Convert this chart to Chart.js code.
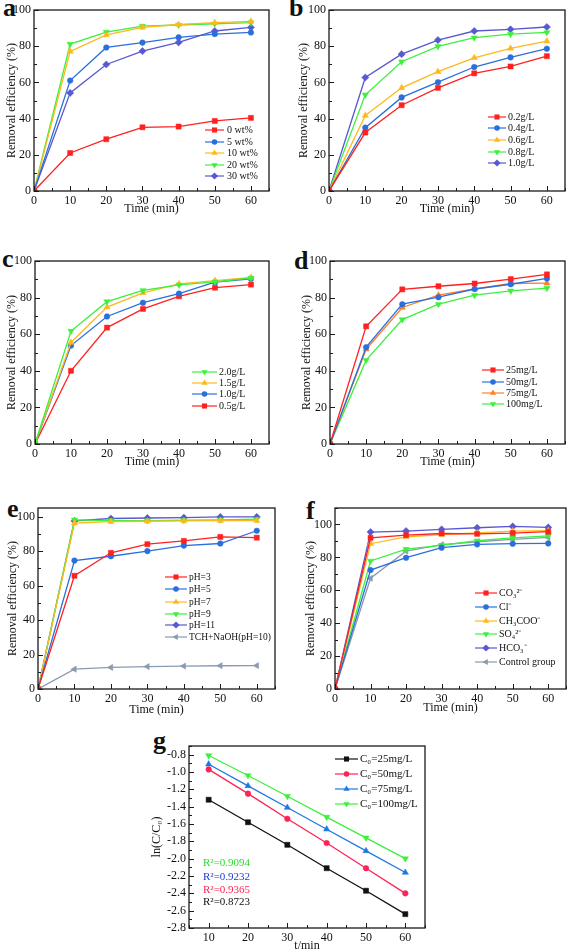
<!DOCTYPE html>
<html>
<head>
<meta charset="UTF-8">
<title>Removal efficiency panels</title>
<script src="https://cdn.jsdelivr.net/npm/chart.js"></script>
<style>
  body { margin:0; width:574px; height:952px; position:relative; overflow:hidden; background:#fff; }
  canvas { position:absolute; }
  .tag { position:absolute; font:bold 26px/26px "Liberation Serif", "Times New Roman", serif; color:#111; }
</style>
</head>
<body>
<div class="tag" style="left:3px;top:-5px">a</div>
<div class="tag" style="left:289px;top:-5px">b</div>
<div class="tag" style="left:2px;top:246px">c</div>
<div class="tag" style="left:294px;top:248px">d</div>
<div class="tag" style="left:7px;top:496px">e</div>
<div class="tag" style="left:306px;top:498px">f</div>
<div class="tag" style="left:153px;top:728px">g</div>

<canvas id="chartA"></canvas>
<canvas id="chartB"></canvas>
<canvas id="chartC"></canvas>
<canvas id="chartD"></canvas>
<canvas id="chartE"></canvas>
<canvas id="chartF"></canvas>
<canvas id="chartG"></canvas>

<script>
// ---- data ----
var times = [0, 10, 20, 30, 40, 50, 60];
var timeTicks = [0, 10, 20, 30, 40, 50, 60];
var effTicks = [0, 20, 40, 60, 80, 100];

// a : loading
var loadLabels = ['0 wt%', '5 wt%', '10 wt%', '20 wt%', '30 wt%'];
var wt0  = [0, 21, 28.6, 35.2, 35.6, 38.7, 40.4];
var wt5  = [0, 61, 79.3, 82, 84.9, 86.7, 87.6];
var wt10 = [0, 77.1, 86.2, 90.4, 92, 93, 93.7];
var wt20 = [0, 81.2, 87.8, 91.1, 91.7, 92.4, 93];
var wt30 = [0, 54.2, 69.9, 77.3, 82.1, 88.4, 90.4];

// b : catalyst dose
var doseLabels = ['0.2g/L', '0.4g/L', '0.6g/L', '0.8g/L', '1.0g/L'];
var dose02 = [0, 32.3, 47.4, 57, 65, 68.8, 74.5];
var dose04 = [0, 35, 51.7, 60.1, 68.5, 73.8, 78.6];
var dose06 = [0, 41.7, 57, 65.9, 73.6, 78.8, 82.8];
var dose08 = [0, 53.1, 71.4, 79.9, 84.7, 86.7, 87.6];
var dose10 = [0, 62.7, 75.6, 83.4, 88.4, 89.3, 90.6];

// c : PMS dose
var pmsLabels = ['2.0g/L', '1.5g/L', '1.0g/L', '0.5g/L'];
var pms20 = [0, 61.7, 77.8, 83.9, 86.9, 88.6, 90.7];
var pms15 = [0, 55.5, 74.8, 82.6, 87.5, 89.3, 91];
var pms10 = [0, 53.8, 69.7, 77.2, 82.2, 88.4, 90.3];
var pms05 = [0, 40, 63.6, 73.8, 80.7, 85.4, 87.1];

// d : initial concentration
var concLabels = ['25mg/L', '50mg/L', '75mg/L', '100mg/L'];
var conc25  = [0, 64.3, 84.5, 86.2, 87.7, 90.1, 92.7];
var conc50  = [0, 52.9, 76.4, 80.2, 84.7, 87.3, 90.5];
var conc75  = [0, 51.8, 74.6, 81.3, 84.7, 87.7, 87.9];
var conc100 = [0, 45.8, 68, 76.4, 81.3, 83.7, 85.2];

// e : pH
var phLabels = ['pH=3', 'pH=5', 'pH=7', 'pH=9', 'pH=11', 'TCH+NaOH(pH=10)'];
var ph3  = [0, 65.7, 79, 84, 85.9, 88.2, 87.8];
var ph5  = [0, 74.5, 77, 80, 83.2, 84.4, 91.8];
var ph7  = [0, 96.2, 97.1, 97.3, 97.5, 97.7, 97.7];
var ph9  = [0, 98.1, 97.7, 97.7, 97.9, 98.1, 98.5];
var ph11 = [0, 97.5, 98.9, 99.2, 99.4, 99.8, 99.8];
var naoh = [0, 11.5, 12.5, 13, 13.3, 13.5, 13.6];

// f : anions
var ionLabels = ['CO\u2083\u00B2\u207B', 'Cl\u207B', 'CH\u2083COO\u207B', 'SO\u2084\u00B2\u207B', 'HCO\u2083\u207B', 'Control group'];
var co3  = [0, 91.9, 93.5, 94.5, 94.3, 94.7, 95.6];
var cl   = [0, 72.3, 79.8, 85.9, 87.9, 88.3, 88.5];
var ac   = [0, 88.3, 92.5, 93.9, 94.9, 96, 96.2];
var so4  = [0, 77.8, 85, 87.3, 90.1, 91.9, 93.1];
var hco3 = [0, 95.4, 96, 97, 98, 98.8, 98.2];
var ctrl = [0, 67.3, 83.8, 87.7, 89.5, 90.9, 92.1];

// g : kinetics
var kTimes = [10, 20, 30, 40, 50, 60];
var kTimeTicks = [10, 20, 30, 40, 50, 60];
var lnTicks = [-2.8, -2.6, -2.4, -2.2, -2.0, -1.8, -1.6, -1.4, -1.2, -1.0, -0.8];
var kinLabels = ['C\u2080=25mg/L', 'C\u2080=50mg/L', 'C\u2080=75mg/L', 'C\u2080=100mg/L'];
var ln25  = [-1.32, -1.58, -1.84, -2.11, -2.37, -2.64];
var ln50  = [-0.97, -1.25, -1.54, -1.82, -2.11, -2.40];
var ln75  = [-0.91, -1.16, -1.41, -1.66, -1.91, -2.16];
var ln100 = [-0.81, -1.04, -1.28, -1.52, -1.76, -2.00];
var r2Labels = ['R\u00B2=0.9094', 'R\u00B2=0.9232', 'R\u00B2=0.9365', 'R\u00B2=0.8723'];

// ---- styles ----
var SERIF = '"Liberation Serif", "Times New Roman", serif';
Chart.defaults.font.family = SERIF;
Chart.defaults.color = '#111';

var RED    = { color: '#ff2020', shape: 'rect',     rot: 0,   r: 3.6 };
var BLUE   = { color: '#2a6fdb', shape: 'circle',   rot: 0,   r: 2.8 };
var GOLD   = { color: '#ffb81c', shape: 'triangle', rot: 0,   r: 3.6 };
var ORANGE = { color: '#ff7f2a', shape: 'triangle', rot: 0,   r: 3.6 };
var GREEN  = { color: '#3cf03c', shape: 'triangle', rot: 180, r: 3.6 };
var PURPLE = { color: '#5858d0', shape: 'rectRot',  rot: 0,   r: 3.6 };
var GREY   = { color: '#8a9bb0', shape: 'triangle', rot: -90, r: 3.6 };
var BLACK  = { color: '#111111', shape: 'rect',     rot: 0,   r: 3.6 };
var PINK   = { color: '#ff2255', shape: 'circle',   rot: 0,   r: 2.8 };
var SKY    = { color: '#1f78e0', shape: 'triangle', rot: 0,   r: 3.6 };

function drawMarker(ctx, st, x, y) {
  var r = st.r;
  ctx.save();
  ctx.translate(x, y);
  ctx.rotate(st.rot * Math.PI / 180);
  ctx.fillStyle = st.color;
  ctx.beginPath();
  if (st.shape === 'rect') { var s = r * Math.SQRT1_2; ctx.rect(-s, -s, 2 * s, 2 * s); }
  else if (st.shape === 'circle') { ctx.arc(0, 0, r, 0, Math.PI * 2); }
  else if (st.shape === 'triangle') { ctx.moveTo(0, -r); ctx.lineTo(r * 0.866, r * 0.5); ctx.lineTo(-r * 0.866, r * 0.5); ctx.closePath(); }
  else { ctx.moveTo(0, -r); ctx.lineTo(r, 0); ctx.lineTo(0, r); ctx.lineTo(-r, 0); ctx.closePath(); }
  ctx.fill();
  ctx.restore();
}

function minorValues(scale) {
  var vals = scale.ticks.map(function (t) { return t.value; });
  var out = [];
  var half = (vals[1] - vals[0]) / 2;
  if (vals[0] - half >= scale.min - 1e-9) out.push(vals[0] - half);
  for (var i = 0; i < vals.length - 1; i++) out.push((vals[i] + vals[i + 1]) / 2);
  if (vals[vals.length - 1] + half <= scale.max + 1e-9) out.push(vals[vals.length - 1] + half);
  return { major: vals, minor: out };
}

// box: frame in page px, titleX/titleY: centres of the axis titles
function panel(id, box, ax, series, legend, notes) {
  var P = 12;
  var W = box.l - box.titleX + 6;
  var H = box.titleY + 6 - box.b;
  var left = box.l - W, top = box.t - P;
  var cv = document.getElementById(id);
  cv.style.left = left + 'px';
  cv.style.top = top + 'px';
  cv.width = W + (box.r - box.l) + P;
  cv.height = P + (box.b - box.t) + H;

  var datasets = series.map(function (s) {
    return {
      label: s.label,
      data: s.values.map(function (v, i) { return { x: s.xs[i], y: v }; }),
      borderColor: s.style.color,
      backgroundColor: s.style.color,
      pointBackgroundColor: s.style.color,
      pointBorderColor: s.style.color,
      pointBorderWidth: 0.5,
      pointStyle: s.style.shape,
      pointRotation: s.style.rot,
      pointRadius: s.style.r,
      borderWidth: 1.3,
      tension: 0
    };
  });

  var deco = {
    id: 'deco',
    afterDraw: function (chart) {
      var ctx = chart.ctx, a = chart.chartArea;
      var xs = chart.scales.x, ys = chart.scales.y;
      ctx.save();
      ctx.strokeStyle = '#1a1a1a';
      ctx.lineWidth = 1.3;
      ctx.strokeRect(a.left, a.top, a.right - a.left, a.bottom - a.top);
      ctx.lineWidth = 1;
      ctx.beginPath();
      var tx = minorValues(xs), ty = minorValues(ys);
      tx.major.forEach(function (v) { var p = Math.round(xs.getPixelForValue(v)) + 0.5; ctx.moveTo(p, a.bottom); ctx.lineTo(p, a.bottom - 5); });
      tx.minor.forEach(function (v) { var p = Math.round(xs.getPixelForValue(v)) + 0.5; ctx.moveTo(p, a.bottom); ctx.lineTo(p, a.bottom - 3); });
      ty.major.forEach(function (v) { var p = Math.round(ys.getPixelForValue(v)) + 0.5; ctx.moveTo(a.left, p); ctx.lineTo(a.left + 5, p); });
      ty.minor.forEach(function (v) { var p = Math.round(ys.getPixelForValue(v)) + 0.5; ctx.moveTo(a.left, p); ctx.lineTo(a.left + 3, p); });
      ctx.stroke();

      // legend
      ctx.font = legend.font + 'px ' + SERIF;
      ctx.textBaseline = 'middle';
      ctx.textAlign = 'left';
      series.forEach(function (s, i) {
        var y = legend.ys[i] - top;
        var x0 = legend.x0 - left, x1 = legend.x1 - left;
        ctx.globalAlpha = 0.75;
        ctx.strokeStyle = s.style.color;
        ctx.lineWidth = 1.6;
        ctx.beginPath(); ctx.moveTo(x0, y); ctx.lineTo(x1, y); ctx.stroke();
        ctx.globalAlpha = 1;
        drawMarker(ctx, s.style, (x0 + x1) / 2, y);
        ctx.fillStyle = '#111';
        ctx.fillText(s.label, legend.tx - left, y + 0.5);
      });

      // coloured notes (panel g)
      if (notes) {
        ctx.font = notes.font + 'px ' + SERIF;
        notes.items.forEach(function (n, i) {
          ctx.fillStyle = n.color;
          ctx.fillText(n.text, notes.x - left, notes.ys[i] - top);
        });
      }
      ctx.restore();
    }
  };

  function axis(min, max, tickVals, title, fit, fmt) {
    return {
      type: 'linear', min: min, max: max,
      afterFit: fit,
      afterBuildTicks: function (s) { s.ticks = tickVals.map(function (v) { return { value: v }; }); },
      grid: { display: false, drawTicks: false },
      border: { display: false },
      ticks: {
        autoSkip: false, maxRotation: 0, padding: 3,
        font: { family: SERIF, size: 12 }, color: '#111',
        callback: fmt || function (v) { return v; }
      },
      title: { display: true, text: title, padding: 0, color: '#111', font: { family: SERIF, size: 12, lineHeight: 1 } }
    };
  }

  return new Chart(cv.getContext('2d'), {
    type: 'line',
    data: { datasets: datasets },
    options: {
      responsive: false,
      animation: false,
      devicePixelRatio: 1,
      layout: { padding: { top: P, right: P, left: 0, bottom: 0 } },
      plugins: { legend: { display: false }, tooltip: { enabled: false } },
      scales: {
        x: axis(ax.xMin, ax.xMax, ax.xTicks, ax.xTitle, function (s) { s.height = H; }),
        y: axis(ax.yMin, ax.yMax, ax.yTicks, ax.yTitle, function (s) { s.width = W; }, ax.yFmt)
      }
    },
    plugins: [deco]
  });
}

var YT = 'Removal efficiency (%)', XT = 'Time (min)';
function S(label, values, style, xs) { return { label: label, values: values, style: style, xs: xs || times }; }
function effAxes(yMax) { return { xMin: 0, xMax: 65, xTicks: timeTicks, yMin: 0, yMax: yMax, yTicks: effTicks, xTitle: XT, yTitle: YT }; }

panel('chartA', { l: 34, t: 10, r: 269, b: 191, titleX: 12, titleY: 209 }, effAxes(100),
  [S(loadLabels[0], wt0, RED), S(loadLabels[1], wt5, BLUE), S(loadLabels[2], wt10, GOLD),
   S(loadLabels[3], wt20, GREEN), S(loadLabels[4], wt30, PURPLE)],
  { font: 10, ys: [130, 142, 153, 165, 176], x0: 205, x1: 224, tx: 227 });

panel('chartB', { l: 329, t: 10, r: 565, b: 191, titleX: 304, titleY: 209 }, effAxes(100),
  [S(doseLabels[0], dose02, RED), S(doseLabels[1], dose04, BLUE), S(doseLabels[2], dose06, GOLD),
   S(doseLabels[3], dose08, GREEN), S(doseLabels[4], dose10, PURPLE)],
  { font: 10, ys: [117, 128, 140, 152, 163], x0: 488, x1: 506, tx: 508 });

panel('chartC', { l: 35, t: 261, r: 269, b: 444, titleX: 12, titleY: 462 }, effAxes(100),
  [S(pmsLabels[0], pms20, GREEN), S(pmsLabels[1], pms15, GOLD), S(pmsLabels[2], pms10, BLUE), S(pmsLabels[3], pms05, RED)],
  { font: 10, ys: [372, 383, 394, 406], x0: 192, x1: 217, tx: 219 });

panel('chartD', { l: 330, t: 261, r: 565, b: 444, titleX: 307, titleY: 462 }, effAxes(100),
  [S(concLabels[0], conc25, RED), S(concLabels[1], conc50, BLUE), S(concLabels[2], conc75, ORANGE), S(concLabels[3], conc100, GREEN)],
  { font: 10, ys: [370, 382, 393, 404], x0: 482, x1: 504, tx: 506 });

panel('chartE', { l: 38, t: 508, r: 275, b: 689, titleX: 13, titleY: 710 }, effAxes(105),
  [S(phLabels[0], ph3, RED), S(phLabels[1], ph5, BLUE), S(phLabels[2], ph7, GOLD), S(phLabels[3], ph9, GREEN),
   S(phLabels[4], ph11, PURPLE), S(phLabels[5], naoh, GREY)],
  { font: 9.5, ys: [577, 589, 602, 614, 625, 637], x0: 165, x1: 187, tx: 189 });

panel('chartF', { l: 335, t: 508, r: 566, b: 689, titleX: 311, titleY: 708 }, effAxes(110),
  [S(ionLabels[0], co3, RED), S(ionLabels[1], cl, BLUE), S(ionLabels[2], ac, GOLD), S(ionLabels[3], so4, GREEN),
   S(ionLabels[4], hco3, PURPLE), S(ionLabels[5], ctrl, GREY)],
  { font: 10, ys: [593, 607, 621, 634, 648, 662], x0: 475, x1: 497, tx: 499 });

panel('chartG', { l: 189, t: 746, r: 425, b: 928, titleX: 157, titleY: 946 },
  { xMin: 5, xMax: 65, xTicks: kTimeTicks, yMin: -2.8, yMax: -0.7, yTicks: lnTicks, xTitle: 't/min', yTitle: 'ln(C/C\u2080)',
    yFmt: function (v) { return v.toFixed(1); } },
  [S(kinLabels[0], ln25, BLACK, kTimes), S(kinLabels[1], ln50, PINK, kTimes),
   S(kinLabels[2], ln75, SKY, kTimes), S(kinLabels[3], ln100, GREEN, kTimes)],
  { font: 11, ys: [759, 774, 789, 804], x0: 335, x1: 358, tx: 360 },
  { font: 11, x: 203, ys: [863, 877, 890, 902],
    items: [{ text: r2Labels[0], color: '#2cdc2c' }, { text: r2Labels[1], color: '#2040d0' },
            { text: r2Labels[2], color: '#ff2255' }, { text: r2Labels[3], color: '#111' }] });
</script>
</body>
</html>
